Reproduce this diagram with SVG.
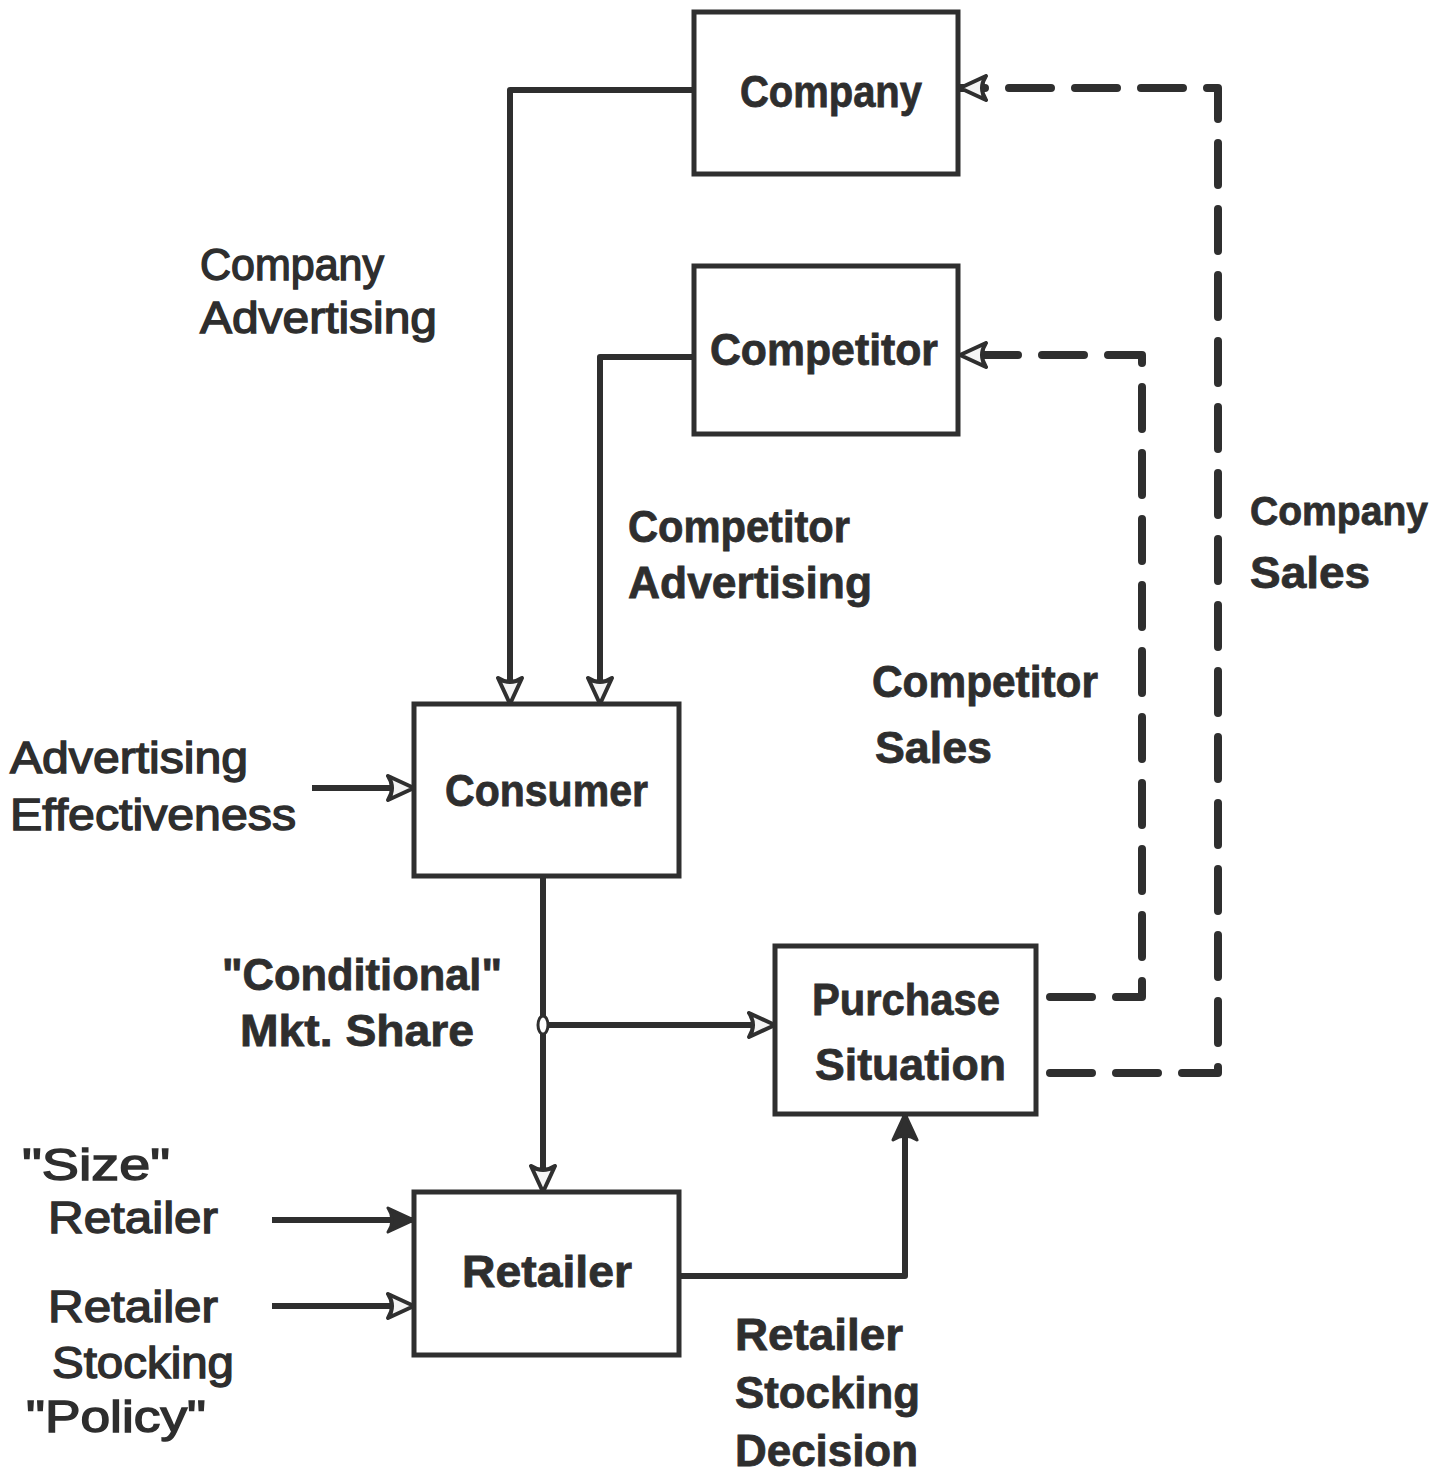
<svg xmlns="http://www.w3.org/2000/svg" width="1442" height="1478" viewBox="0 0 1442 1478">
<style>
  .box { fill: #ffffff; stroke: #2f2f2f; stroke-width: 5; }
  .line { fill: none; stroke: #2f2f2f; stroke-width: 6; stroke-linejoin: round; }
  .dash { fill: none; stroke: #2f2f2f; stroke-width: 8; stroke-dasharray: 42 24; stroke-linecap: round; stroke-linejoin: round; }
  .t { font-family: "Liberation Sans", Arial, sans-serif; font-size: 44px; font-weight: bold; fill: #2e2e2e; stroke: #2e2e2e; stroke-width: 0.8; }
  .m { font-family: "Liberation Sans", Arial, sans-serif; font-size: 44px; font-weight: normal; fill: #2e2e2e; stroke: #2e2e2e; stroke-width: 1.4; }
</style>
<defs>
  <marker id="hollow" viewBox="0 0 30 28" markerWidth="30" markerHeight="28" refX="28" refY="14" orient="auto" markerUnits="userSpaceOnUse">
    <path d="M2,2 L28,14 L2,26 Q10,14 2,2 Z" fill="#f4f4f4" stroke="#2f2f2f" stroke-width="4" stroke-linejoin="round"/>
  </marker>
  <marker id="solid" viewBox="0 0 30 28" markerWidth="30" markerHeight="28" refX="28" refY="14" orient="auto" markerUnits="userSpaceOnUse">
    <path d="M2,2 L28,14 L2,26 Q10,14 2,2 Z" fill="#2f2f2f" stroke="#2f2f2f" stroke-width="3" stroke-linejoin="round"/>
  </marker>
</defs>
<rect width="1442" height="1478" fill="#ffffff"/>

<g id="connectors">
  <path class="line" d="M694,90 H510 V704" marker-end="url(#hollow)"/>
  <path class="line" d="M694,357 H600 V704" marker-end="url(#hollow)"/>
  <path class="line" d="M312,788 H414" marker-end="url(#hollow)"/>
  <path class="line" d="M543,876 V1192" marker-end="url(#hollow)"/>
  <path class="line" d="M543,1025 H775" marker-end="url(#hollow)"/>
  <ellipse cx="543" cy="1025" rx="5" ry="9" fill="#ffffff" stroke="#2f2f2f" stroke-width="3"/>
  <path class="line" d="M272,1220 H414" marker-end="url(#solid)"/>
  <path class="line" d="M272,1306 H414" marker-end="url(#hollow)"/>
  <path class="line" d="M679,1276 H905 V1114" marker-end="url(#solid)"/>
  <path class="dash" d="M1050,997 H1142 V355 H960" marker-end="url(#hollow)"/>
  <path class="dash" d="M1050,1073 H1218 V88 H960" marker-end="url(#hollow)"/>
</g>

<g id="company">
  <rect class="box" x="694" y="12" width="264" height="162"/>
  <text class="t" x="740" y="107" textLength="182" lengthAdjust="spacingAndGlyphs">Company</text>
</g>
<g id="competitor">
  <rect class="box" x="694" y="266" width="264" height="168"/>
  <text class="t" x="710" y="365" textLength="228" lengthAdjust="spacingAndGlyphs">Competitor</text>
</g>
<g id="consumer">
  <rect class="box" x="414" y="704" width="265" height="172"/>
  <text class="t" x="445" y="806" textLength="203" lengthAdjust="spacingAndGlyphs">Consumer</text>
</g>
<g id="purchase-situation">
  <rect class="box" x="775" y="946" width="261" height="168"/>
  <text class="t" x="812" y="1015" textLength="188" lengthAdjust="spacingAndGlyphs">Purchase</text>
  <text class="t" x="815" y="1080" textLength="191" lengthAdjust="spacingAndGlyphs">Situation</text>
</g>
<g id="retailer">
  <rect class="box" x="414" y="1192" width="265" height="163"/>
  <text class="t" x="462" y="1287" textLength="170" lengthAdjust="spacingAndGlyphs">Retailer</text>
</g>

<g id="labels">
  <text class="m" x="200" y="280" textLength="184" lengthAdjust="spacingAndGlyphs">Company</text>
  <text class="m" x="200" y="333" textLength="237" lengthAdjust="spacingAndGlyphs">Advertising</text>

  <text class="t" x="628" y="542" textLength="222" lengthAdjust="spacingAndGlyphs">Competitor</text>
  <text class="t" x="628" y="598" textLength="244" lengthAdjust="spacingAndGlyphs">Advertising</text>

  <text class="t" x="872" y="697" textLength="226" lengthAdjust="spacingAndGlyphs">Competitor</text>
  <text class="t" x="875" y="763" textLength="117" lengthAdjust="spacingAndGlyphs">Sales</text>

  <text class="t" x="1250" y="525" style="font-size:41px" textLength="178" lengthAdjust="spacingAndGlyphs">Company</text>
  <text class="t" x="1250" y="588" textLength="120" lengthAdjust="spacingAndGlyphs">Sales</text>

  <text class="m" x="10" y="773" textLength="238" lengthAdjust="spacingAndGlyphs">Advertising</text>
  <text class="m" x="10" y="830" textLength="286" lengthAdjust="spacingAndGlyphs">Effectiveness</text>

  <text class="t" x="222" y="990" textLength="280" lengthAdjust="spacingAndGlyphs">"Conditional"</text>
  <text class="t" x="240" y="1046" textLength="234" lengthAdjust="spacingAndGlyphs">Mkt. Share</text>

  <text class="m" x="22" y="1180" textLength="148" lengthAdjust="spacingAndGlyphs">"Size"</text>
  <text class="m" x="48" y="1233" textLength="170" lengthAdjust="spacingAndGlyphs">Retailer</text>

  <text class="m" x="48" y="1322" textLength="170" lengthAdjust="spacingAndGlyphs">Retailer</text>
  <text class="m" x="52" y="1378" textLength="182" lengthAdjust="spacingAndGlyphs">Stocking</text>
  <text class="m" x="26" y="1432" textLength="180" lengthAdjust="spacingAndGlyphs">"Policy"</text>

  <text class="t" x="735" y="1350" textLength="168" lengthAdjust="spacingAndGlyphs">Retailer</text>
  <text class="t" x="735" y="1408" textLength="185" lengthAdjust="spacingAndGlyphs">Stocking</text>
  <text class="t" x="735" y="1466" textLength="183" lengthAdjust="spacingAndGlyphs">Decision</text>
</g>
</svg>
